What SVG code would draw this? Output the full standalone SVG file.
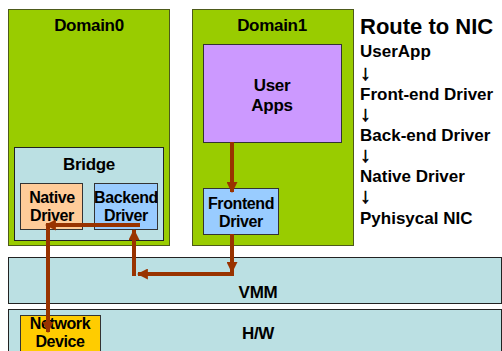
<svg xmlns="http://www.w3.org/2000/svg" width="502" height="351" viewBox="0 0 502 351">
<style>
text{font-family:"Liberation Sans",Arial,sans-serif;font-weight:bold;fill:#000;text-anchor:middle}
.dom{fill:#99CC00;stroke:#4d5a1a;stroke-width:1}
.lb{fill:#BBE0E3;stroke:#222;stroke-width:1}
.box{stroke:#333;stroke-width:1}
.t17{font-size:17px;letter-spacing:-0.3px}
.t16{font-size:16px;letter-spacing:-0.4px}
.side{font-size:17px;text-anchor:start}
.dn{font-size:21px;text-anchor:start;stroke:#000;stroke-width:0.7px}
.arr{fill:none;stroke:#993300;stroke-width:4}
</style>
<defs>
<marker id="ah" viewBox="0 0 10 10" refX="9" refY="5" markerWidth="11" markerHeight="11" markerUnits="userSpaceOnUse" orient="auto">
<path d="M0,0 L10,5 L0,10 z" fill="#993300"/>
</marker>
</defs>
<rect width="502" height="351" fill="#fff"/>
<g id="domain0">
<rect class="dom" x="8.5" y="9.5" width="161" height="236"/>
<text class="t17" x="89" y="31">Domain0</text>
</g>
<g id="domain1">
<rect class="dom" x="192.5" y="9.5" width="161" height="236"/>
<text class="t17" x="272" y="31">Domain1</text>
</g>
<g id="userapps">
<rect class="box" x="203.5" y="44.5" width="138" height="98" fill="#CC99FF"/>
<text class="t17" x="272" y="91">User</text>
<text class="t17" x="272" y="111">Apps</text>
</g>
<g id="bridge">
<rect class="lb" x="14.5" y="147.5" width="149" height="93"/>
<text class="t17" x="89" y="170">Bridge</text>
</g>
<g id="native">
<rect class="box" x="20.5" y="183.5" width="62" height="46" fill="#FFCC99"/>
<text class="t16" x="52" y="203">Native</text>
<text class="t16" x="52" y="221">Driver</text>
</g>
<g id="backend">
<rect class="box" x="94.5" y="183.5" width="63" height="46" fill="#99CCFF"/>
<text class="t16" x="126" y="203">Backend</text>
<text class="t16" x="126" y="221">Driver</text>
</g>
<g id="frontend">
<rect class="box" x="203.5" y="188.5" width="75" height="46" fill="#99CCFF"/>
<text class="t16" x="241" y="209">Frontend</text>
<text class="t16" x="241" y="227">Driver</text>
</g>
<g id="vmm">
<rect class="lb" x="8.5" y="257.5" width="493" height="46"/>
<text class="t17" x="258" y="298">VMM</text>
</g>
<g id="hw">
<rect class="lb" x="8.5" y="309.5" width="493" height="50"/>
<text class="t17" x="258" y="339">H/W</text>
</g>
<g id="netdev">
<rect class="box" x="20.5" y="315.5" width="80" height="40" fill="#FFCC00"/>
<text class="t16" x="60" y="329">Network</text>
<text class="t16" x="60" y="347">Device</text>
</g>
<g id="route">
<text x="360" y="34" style="font-size:22px;text-anchor:start">Route to NIC</text>
<text class="side" x="360" y="57">UserApp</text>
<text class="dn" x="360" y="80">↓</text>
<text class="side" x="360" y="100">Front-end Driver</text>
<text class="dn" x="360" y="121">↓</text>
<text class="side" x="360" y="141">Back-end Driver</text>
<text class="dn" x="360" y="162">↓</text>
<text class="side" x="360" y="182">Native Driver</text>
<text class="dn" x="360" y="203">↓</text>
<text class="side" x="360" y="224">Pyhisycal NIC</text>
</g>
<g id="connectors">
<path class="arr" d="M232,142 V192" marker-end="url(#ah)"/>
<path class="arr" d="M232,234 V272" marker-end="url(#ah)"/>
<path class="arr" d="M234,274 H138" marker-end="url(#ah)"/>
<path class="arr" d="M134,276 V230" marker-end="url(#ah)"/>
<path class="arr" d="M140,225 H46" marker-end="url(#ah)"/>
<path class="arr" d="M48,223 V332" marker-end="url(#ah)"/>
</g>
</svg>
